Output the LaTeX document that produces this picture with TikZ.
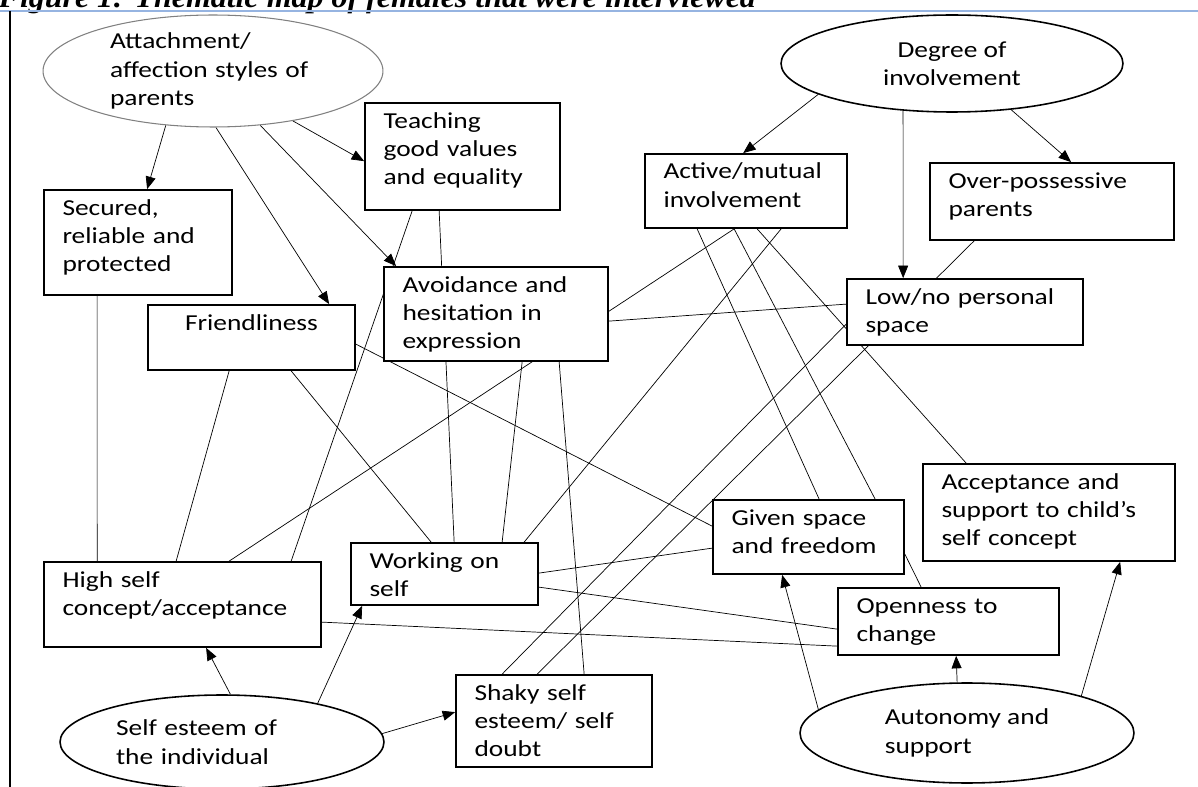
\documentclass[tikz,border=0pt]{standalone}
\usepackage{fontspec}
\setmainfont{Carlito}[FakeStretch=1.2]
\newfontfamily\titlefont{Liberation Serif}[FakeStretch=1.07]
\usetikzlibrary{shapes.geometric, arrows.meta, calc, backgrounds}

\begin{document}
\begin{tikzpicture}[x=0.02cm, y=-0.02cm, line width=0.8pt,
    font=\fontsize{13pt}{16.2pt}\selectfont,
    box/.style={draw, fill=white, line width=1pt, align=left,
      inner xsep=0.37cm, inner ysep=0pt, text height=0.5cm},
    oval/.style={draw, fill=white, line width=0.9pt, ellipse, inner sep=0pt},
    >={Triangle[length=0.25cm, width=0.2cm]}]
  \useasboundingbox (0,0) rectangle (1198,787);
  \clip (0,0) rectangle (1198,787);

  % page heading and margin
  \node[anchor=base west, inner sep=0pt] (title) at (-2,8)
    {\titlefont\fontsize{17pt}{20pt}\selectfont\bfseries\itshape Figure 1: Thematic map of females that were interviewed};
  \draw[color={rgb,255:red,150;green,180;blue,225}, line width=0.9pt] (0,11) -- (1198,11);
  \draw[line width=0.9pt] (10,11) -- (10,787);

  % themes
  \node[oval, draw=gray, line width=0.6pt, minimum width=6.8cm, minimum height=2.24cm,
    text width=4.12cm, align=left] (Att) at (213,71) {Attachment/\\affection styles of\\parents};
  \node[oval, minimum width=6.84cm, minimum height=1.94cm, align=center] (Deg) at (952,63.5) {Degree of\\involvement};
  \node[oval, minimum width=6.48cm, minimum height=1.88cm, text width=4.24cm, align=left] (Sel) at (222,742) {Self esteem of\\the individual};
  \node[oval, minimum width=6.68cm, minimum height=2.0cm, align=left] (Aut) at (967,733) {Autonomy and\\support};

  % sub-themes
  \node[box, text width=3.16cm, text depth=1.64cm] (Tea) at (462.5,156.5) {Teaching\\good values\\and equality};
  \node[box, text width=3.02cm, text depth=1.60cm] (Sec) at (138,242.5) {Secured,\\reliable and\\protected};
  \node[box, text width=3.40cm, text depth=0.80cm, align=center] (Fri) at (251.5,337.5) {Friendliness};
  \node[box, text width=3.74cm, text depth=1.38cm] (Avo) at (496,314) {Avoidance and\\hesitation in\\expression};
  \node[box, text width=3.30cm, text depth=0.98cm] (Act) at (746,191) {Active/mutual\\involvement};
  \node[box, text width=4.14cm, text depth=1.04cm] (Ove) at (1052,201.5) {Over-possessive\\parents};
  \node[box, text width=3.98cm, text depth=0.82cm] (Low) at (965,312) {Low/no personal\\space};
  \node[box, text width=4.80cm, text depth=1.20cm] (Hig) at (182.5,604.5) {High self\\concept/acceptance};
  \node[box, text width=3.00cm, text depth=0.74cm] (Wor) at (444.5,574) {Working on\\self};
  \node[box, text width=3.08cm, text depth=0.98cm] (Giv) at (808.5,537) {Given space\\and freedom};
  \node[box, text width=4.30cm, text depth=1.44cm] (Acc) at (1049,512.5) {Acceptance and\\support to child’s\\self concept};
  \node[box, text width=3.68cm, text depth=0.84cm] (Ope) at (948.5,621.5) {Openness to\\change};
  \node[box, text width=3.18cm, text depth=1.34cm] (Sha) at (554,721) {Shaky self\\esteem/ self\\doubt};

  \begin{scope}[on background layer]
    % arrows out of the themes
    \path (Att.229) edge [->] ($(Sec.north west)+(104,0)$);
    \path (Att.273) edge [->] ($(Fri.north west)+(182,0)$);
    \path (Att.311) edge [->] ($(Avo.north west)+(13,0)$);
    \path (Att.328) edge [->] ($(Tea.north west)+(0,59)$);
    \path (Deg.193) edge [->] ($(Act.north west)+(99,0)$);
    \path (Deg.224) edge [->] ($(Low.north west)+(57,0)$);
    \path (Deg.322) edge [->] ($(Ove.north west)+(142,0)$);
    \path (Sel.80) edge [->] ($(Hig.south west)+(163,0)$);
    \path (Sel.22) edge [->] ($(Wor.south west)+(12,0)$);
    \path (Sel.3) edge [->] ($(Sha.north west)+(0,38)$);
    \path (Aut.171) edge [->] ($(Giv.south west)+(70,0)$);
    \path (Aut.101) edge [->] ($(Ope.south west)+(119,0)$);
    \path (Aut.18) edge [->] ($(Acc.south west)+(198,0)$);
    % links between sub-themes
    \path ($(Act.south west)+(53,0)$) edge [] ($(Giv.north west)+(107,0)$);
    \path ($(Act.south west)+(90,0)$) edge [] ($(Hig.north west)+(186,0)$);
    \path ($(Act.south west)+(90,0)$) edge [] ($(Giv.north west)+(163,0)$);
    \path ($(Act.south west)+(113,0)$) edge [] ($(Acc.north west)+(44,0)$);
    \path ($(Act.south west)+(137,0)$) edge [] ($(Wor.north west)+(174,0)$);
    \path ($(Low.north west)+(0,26)$) edge [] ($(Avo.north east)+(0,55)$);
    \path ($(Low.north west)+(0,46)$) edge [] ($(Sha.north west)+(47,0)$);
    \path ($(Ove.south west)+(45,0)$) edge [] ($(Sha.north west)+(82,0)$);
    \path ($(Tea.south west)+(75,0)$) edge [] ($(Wor.north west)+(104,0)$);
    \path ($(Tea.south west)+(48,0)$) edge [] ($(Hig.north west)+(248,0)$);
    \path ($(Avo.south west)+(139,0)$) edge [] ($(Wor.north west)+(152,0)$);
    \path ($(Avo.south west)+(176,0)$) edge [] ($(Sha.north west)+(129,0)$);
    \path ($(Fri.south west)+(82,0)$) edge [] ($(Hig.north west)+(133,0)$);
    \path ($(Fri.south west)+(144,0)$) edge [] ($(Wor.north west)+(81,0)$);
    \path ($(Fri.north east)+(0,40)$) edge [] ($(Giv.north west)+(0,27)$);
    \path ($(Sec.south west)+(54,0)$) edge [] ($(Hig.north west)+(54,0)$);
    \path ($(Wor.north east)+(0,31)$) edge [] ($(Giv.north west)+(0,49)$);
    \path ($(Wor.north east)+(0,45)$) edge [] ($(Ope.north west)+(0,42)$);
    \path ($(Hig.north east)+(0,61)$) edge [] ($(Ope.north west)+(0,59)$);
    \path ($(Giv.north east)+(0,55)$) edge [] ($(Ope.north west)+(84,0)$);
  \end{scope}
\end{tikzpicture}
\end{document}
